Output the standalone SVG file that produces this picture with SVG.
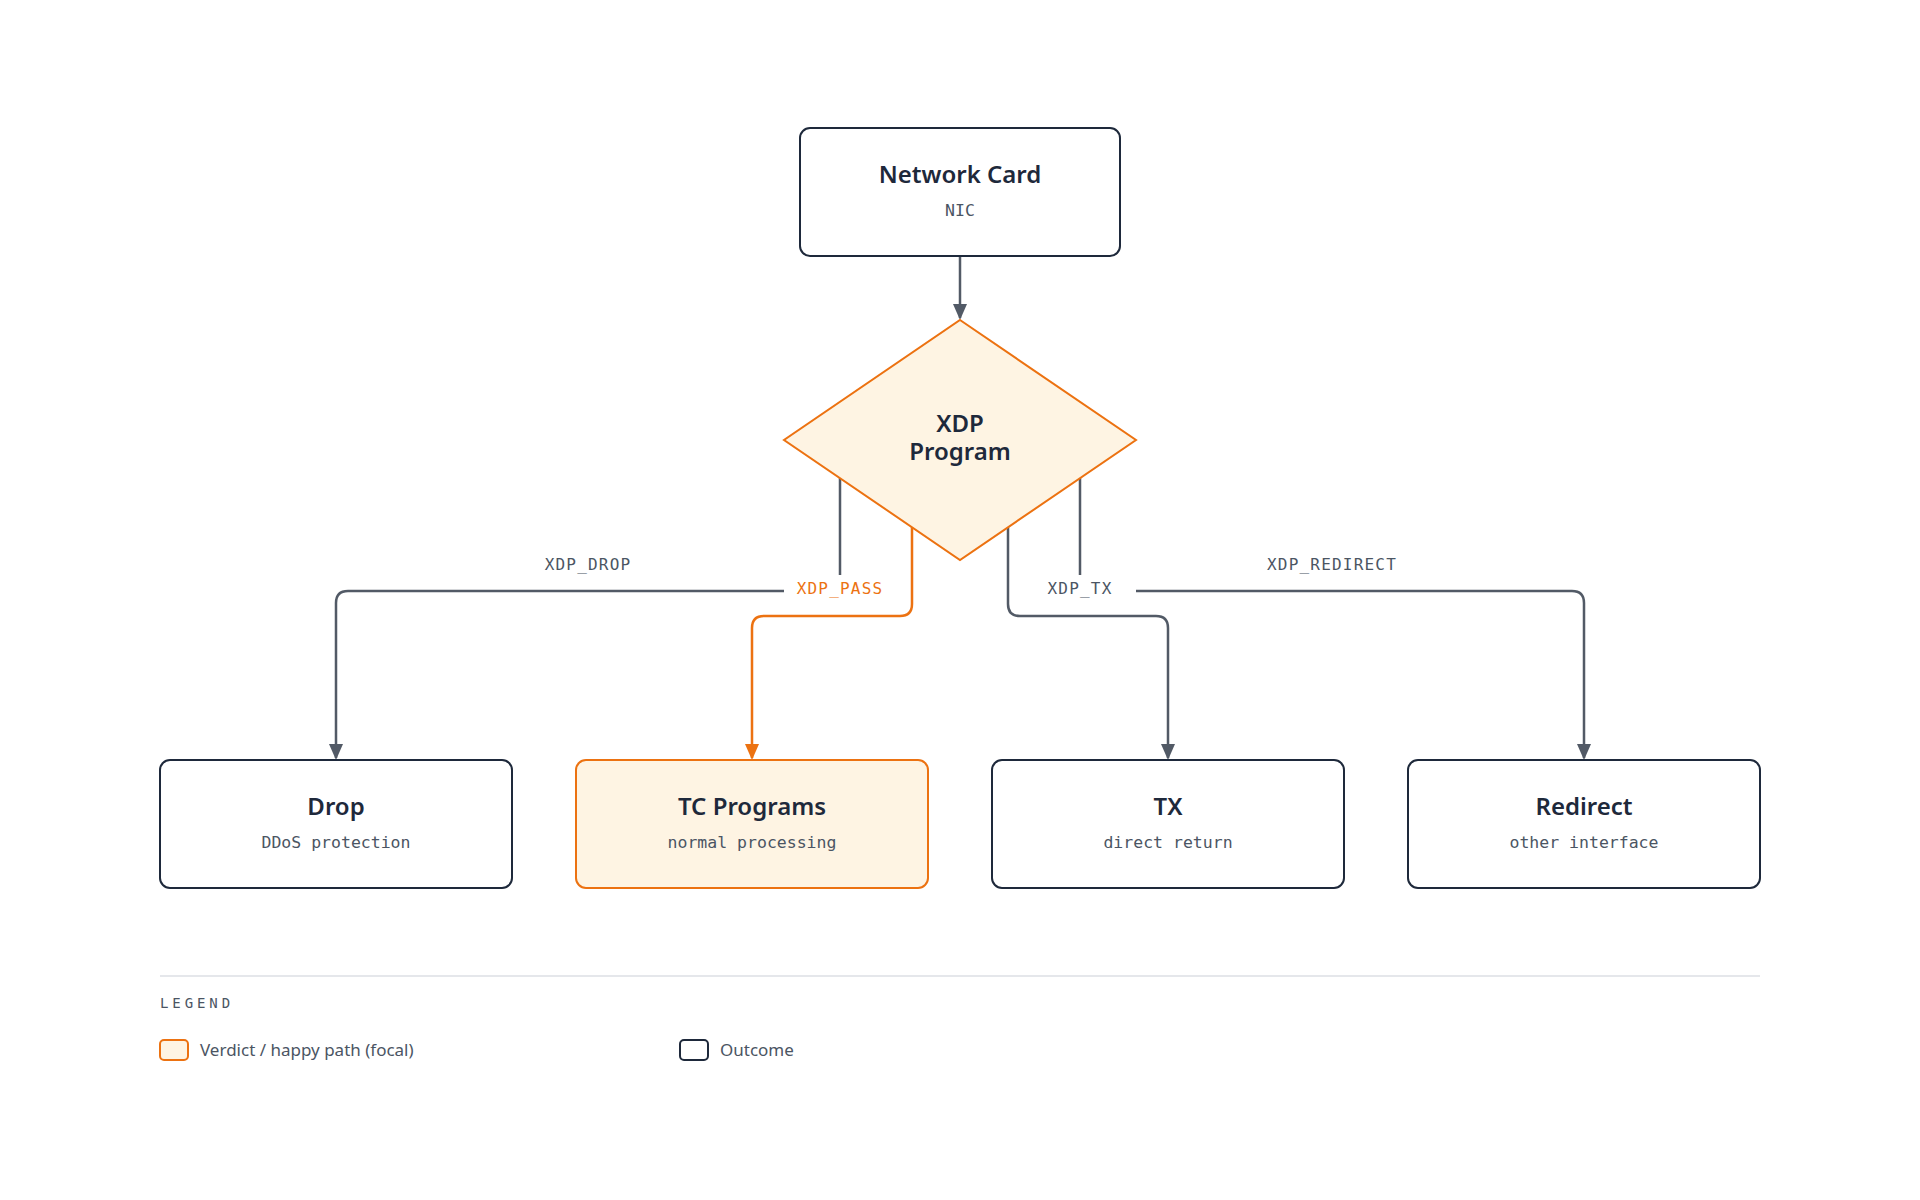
<svg xmlns="http://www.w3.org/2000/svg" width="1920" height="1200" viewBox="0 0 1920 1200">
  <style>
    .box { fill: #ffffff; stroke: #1e293b; stroke-width: 2; }
    .focal { fill: #fef4e3; stroke: #ec7211; stroke-width: 2; }
    .title { font-family: "Noto Sans", "Open Sans", sans-serif; font-weight: 600; font-size: 24px; fill: #1e293b; text-anchor: middle; }
    .sub { font-family: "DejaVu Sans Mono", "Liberation Mono", monospace; font-size: 16.5px; fill: #4b5563; text-anchor: middle; }
    .edge { fill: none; stroke: #525a66; stroke-width: 2.5; }
    .edge-focal { fill: none; stroke: #ec7211; stroke-width: 2.5; }
    .lbl-bg { fill: #ffffff; }
    .lbl { font-family: "DejaVu Sans Mono", "Liberation Mono", monospace; font-size: 16px; letter-spacing: 1.2px; fill: #4b5563; text-anchor: middle; }
    .lbl-focal { fill: #ec7211; }
    .legend-title { font-family: "DejaVu Sans Mono", monospace; font-size: 14px; letter-spacing: 3.9px; fill: #4b5563; }
    .legend-text { font-family: "Noto Sans", sans-serif; font-size: 17px; fill: #4b5563; }
  </style>
  <defs>
    <marker id="arrow" markerUnits="userSpaceOnUse" viewBox="0 0 16 14" refX="14" refY="7" markerWidth="16" markerHeight="14" orient="auto">
      <path d="M0,0 L16,7 L0,14 z" fill="#525a66"/>
    </marker>
    <marker id="arrow-focal" markerUnits="userSpaceOnUse" viewBox="0 0 16 14" refX="14" refY="7" markerWidth="16" markerHeight="14" orient="auto">
      <path d="M0,0 L16,7 L0,14 z" fill="#ec7211"/>
    </marker>
  </defs>
  <rect x="0" y="0" width="1920" height="1200" fill="#ffffff"/>

  <g id="connectors">
    <path class="edge" d="M960,256 L960,318" marker-end="url(#arrow)"/>
    <path class="edge" d="M840,478 L840,579 Q840,591 828,591 L348,591 Q336,591 336,603 L336,758" marker-end="url(#arrow)"/>
    <path class="edge-focal" d="M912,527 L912,604 Q912,616 900,616 L764,616 Q752,616 752,628 L752,758" marker-end="url(#arrow-focal)"/>
    <path class="edge" d="M1008,527 L1008,604 Q1008,616 1020,616 L1156,616 Q1168,616 1168,628 L1168,758" marker-end="url(#arrow)"/>
    <path class="edge" d="M1080,478 L1080,579 Q1080,591 1092,591 L1572,591 Q1584,591 1584,603 L1584,758" marker-end="url(#arrow)"/>
  </g>

  <g id="edge-labels">
    <rect class="lbl-bg" x="532" y="550" width="112" height="28"/>
    <text class="lbl" x="588" y="570">XDP_DROP</text>
    <rect class="lbl-bg" x="784" y="575" width="112" height="28"/>
    <text class="lbl lbl-focal" x="840" y="594">XDP_PASS</text>
    <rect class="lbl-bg" x="1024" y="575" width="112" height="28"/>
    <text class="lbl" x="1080" y="594">XDP_TX</text>
    <rect class="lbl-bg" x="1262" y="550" width="140" height="28"/>
    <text class="lbl" x="1332" y="570">XDP_REDIRECT</text>
  </g>

  <g id="node-nic">
    <rect class="box" x="800" y="128" width="320" height="128" rx="10"/>
    <text class="title" x="960" y="183">Network Card</text>
    <text class="sub" x="960" y="216">NIC</text>
  </g>

  <g id="node-xdp">
    <polygon class="focal" points="960,320 1136,440 960,560 784,440"/>
    <text class="title" x="960" y="432">XDP<tspan x="960" y="460">Program</tspan></text>
  </g>

  <g id="node-drop">
    <rect class="box" x="160" y="760" width="352" height="128" rx="10"/>
    <text class="title" x="336" y="815">Drop</text>
    <text class="sub" x="336" y="848">DDoS protection</text>
  </g>

  <g id="node-tc">
    <rect class="focal" x="576" y="760" width="352" height="128" rx="10"/>
    <text class="title" x="752" y="815">TC Programs</text>
    <text class="sub" x="752" y="848">normal processing</text>
  </g>

  <g id="node-tx">
    <rect class="box" x="992" y="760" width="352" height="128" rx="10"/>
    <text class="title" x="1168" y="815">TX</text>
    <text class="sub" x="1168" y="848">direct return</text>
  </g>

  <g id="node-redirect">
    <rect class="box" x="1408" y="760" width="352" height="128" rx="10"/>
    <text class="title" x="1584" y="815">Redirect</text>
    <text class="sub" x="1584" y="848">other interface</text>
  </g>

  <g id="legend">
    <line x1="160" y1="976" x2="1760" y2="976" stroke="#e5e7eb" stroke-width="2"/>
    <text class="legend-title" x="160" y="1008">LEGEND</text>
    <rect class="focal" x="160" y="1040" width="28" height="20" rx="4"/>
    <text class="legend-text" x="200" y="1056">Verdict / happy path (focal)</text>
    <rect class="box" x="680" y="1040" width="28" height="20" rx="4"/>
    <text class="legend-text" x="720" y="1056">Outcome</text>
  </g>
</svg>
